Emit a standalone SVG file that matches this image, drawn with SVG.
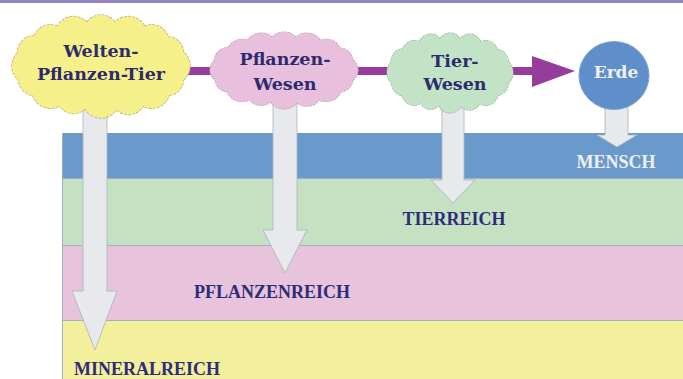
<svg xmlns="http://www.w3.org/2000/svg" xmlns:xlink="http://www.w3.org/1999/xlink" width="683" height="379" viewBox="0 0 683 379">
  <style>
    .ct { font-family: "DejaVu Serif", "Liberation Serif", serif; font-weight: bold; font-size: 17.5px; fill: #2d2a6e; text-anchor: middle; }
    .lb { font-family: "Liberation Serif", "Times New Roman", serif; font-weight: bold; font-size: 18px; fill: #2e2c78; text-anchor: middle; }
    .arrow { fill: #e7e9ec; stroke: #a9b2bc; stroke-width: 0.8; }
    .band { stroke: none; }
  </style>
  <defs>
    <g id="cloud">
      <circle cx="70" cy="0" r="17"/>
      <circle cx="64.7" cy="12.3" r="16"/>
      <circle cx="49.5" cy="22.6" r="18"/>
      <circle cx="26.8" cy="29.6" r="17"/>
      <circle cx="0" cy="32" r="18"/>
      <circle cx="-26.8" cy="29.6" r="16"/>
      <circle cx="-49.5" cy="22.6" r="18"/>
      <circle cx="-64.7" cy="12.3" r="16"/>
      <circle cx="-70" cy="0" r="17"/>
      <circle cx="-64.7" cy="-12.3" r="17"/>
      <circle cx="-49.5" cy="-22.6" r="17"/>
      <circle cx="-26.8" cy="-29.6" r="18"/>
      <circle cx="0" cy="-32" r="17"/>
      <circle cx="26.8" cy="-29.6" r="18"/>
      <circle cx="49.5" cy="-22.6" r="17"/>
      <circle cx="64.7" cy="-12.3" r="16"/>
      <ellipse cx="0" cy="0" rx="70" ry="32"/>
    </g>
  </defs>

  <rect x="0" y="0" width="683" height="379" fill="#ffffff"/>
  <rect x="0" y="0" width="683" height="3" fill="#9583c2"/>

  <g id="bands">
    <g id="band-mensch">
      <rect class="band" x="62" y="133" width="621" height="46" fill="#6a9acb"/>
      <text class="lb" x="616" y="168" style="fill:#eef0f3">MENSCH</text>
    </g>
    <g id="band-tierreich">
      <rect class="band" x="62" y="179" width="621" height="67" fill="#c4e1c2"/>
      <text class="lb" x="454" y="225">TIERREICH</text>
    </g>
    <g id="band-pflanzenreich">
      <rect class="band" x="62" y="246" width="621" height="75" fill="#e7c3dc"/>
      <text class="lb" x="272" y="298">PFLANZENREICH</text>
    </g>
    <g id="band-mineralreich">
      <rect class="band" x="62" y="321" width="621" height="58" fill="#f3ef9d"/>
      <text class="lb" x="147" y="375">MINERALREICH</text>
    </g>
    <g fill="none" stroke="#9fb0c4" stroke-width="1">
      <line x1="62" y1="178.5" x2="683" y2="178.5"/>
      <line x1="62" y1="245.5" x2="683" y2="245.5"/>
      <line x1="62" y1="320.5" x2="683" y2="320.5"/>
      <line x1="62.5" y1="133" x2="62.5" y2="379"/>
    </g>
  </g>

  <g id="connectors">
    <line x1="185" y1="71" x2="534" y2="71" stroke="#963c9c" stroke-width="8"/>
    <polygon points="532,56 575,71 532,87" fill="#963c9c"/>
    <polygon class="arrow" points="83,105 107,105 107,291 117,291 95,350 72,291 83,291"/>
    <polygon class="arrow" points="273,100 297,100 297,230 307,230 285,273 263,230 273,230"/>
    <polygon class="arrow" points="442,100 464,100 464,180 475,180 453,203 431,180 442,180"/>
    <polygon class="arrow" points="605,100 628,100 628,135 637,135 617,147 597,135 605,135"/>
  </g>

  <g id="node-welten-pflanzen-tier">
    <use xlink:href="#cloud" transform="translate(101,66) scale(1.023,1.04)" fill="#f5f08a" stroke="#b7b27e" stroke-width="1.4" stroke-dasharray="3 1"/>
    <use xlink:href="#cloud" transform="translate(101,66) scale(1.023,1.04)" fill="#f5f08a" stroke="none"/>
    <text class="ct" x="101" y="57">Welten-</text>
    <text class="ct" x="101" y="80">Pflanzen-Tier</text>
  </g>

  <g id="node-pflanzen-wesen">
    <use xlink:href="#cloud" transform="translate(284,70) scale(0.85,0.776)" fill="#e8bfdc" stroke="#b69aae" stroke-width="1.5" stroke-dasharray="3 1"/>
    <use xlink:href="#cloud" transform="translate(284,70) scale(0.85,0.776)" fill="#e8bfdc" stroke="none"/>
    <text class="ct" x="285" y="65">Pflanzen-</text>
    <text class="ct" x="285" y="90">Wesen</text>
  </g>

  <g id="node-tier-wesen">
    <use xlink:href="#cloud" transform="translate(450,72.5) scale(0.724,0.806)" fill="#c3e3c6" stroke="#93a896" stroke-width="1.5" stroke-dasharray="3 1"/>
    <use xlink:href="#cloud" transform="translate(450,72.5) scale(0.724,0.806)" fill="#c3e3c6" stroke="none"/>
    <text class="ct" x="455" y="67">Tier-</text>
    <text class="ct" x="455" y="90">Wesen</text>
  </g>

  <g id="node-erde">
    <ellipse cx="614" cy="75.5" rx="35" ry="34" fill="#5f8fc8" stroke="#7aa3d3" stroke-width="1"/>
    <text class="ct" x="616" y="78" style="fill:#eef2f7;font-size:17px">Erde</text>
  </g>
</svg>
